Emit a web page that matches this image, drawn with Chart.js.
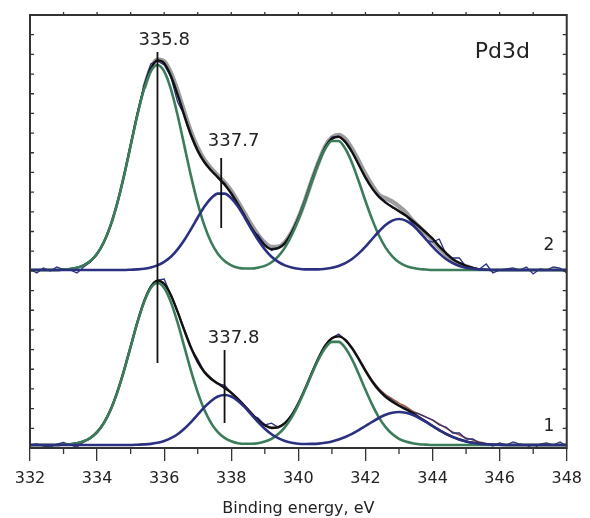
<!DOCTYPE html>
<html>
<head>
<meta charset="utf-8">
<script src="https://cdn.jsdelivr.net/npm/chart.js@4.4.1/dist/chart.umd.min.js"></script>
<style>
  html, body { margin: 0; padding: 0; background: #fff; }
</style>
</head>
<body>
<canvas id="myChart" width="590" height="518"></canvas>
<script>
// DATA (binding energy grid, eV)
const energy = [
  332, 332.2, 332.4, 332.6, 332.8, 333, 333.2, 333.4, 333.6, 333.8,
  334, 334.2, 334.4, 334.6, 334.8, 335, 335.2, 335.4, 335.6, 335.8,
  336, 336.2, 336.4, 336.6, 336.8, 337, 337.2, 337.4, 337.6, 337.8,
  338, 338.2, 338.4, 338.6, 338.8, 339, 339.2, 339.4, 339.6, 339.8,
  340, 340.2, 340.4, 340.6, 340.8, 341, 341.2, 341.4, 341.6, 341.8,
  342, 342.2, 342.4, 342.6, 342.8, 343, 343.2, 343.4, 343.6, 343.8,
  344, 344.2, 344.4, 344.6, 344.8, 345, 345.2, 345.4, 345.6, 345.8,
  346, 346.2, 346.4, 346.6, 346.8, 347, 347.2, 347.4, 347.6, 347.8,
  348
];

// spectrum 2 (upper)
const raw2 = [
  1, -3, 2, -1, 3, 0.5, 0, -3, 3, 8,
  15.5, 27, 44, 67, 94, 126, 157, 185, 206, 209,
  205, 193, 168, 155, 136, 120, 108, 100, 92, 87,
  76, 63, 55, 40, 35, 25.7, 19.5, 22.3, 25.8, 38.1,
  52.3, 68.3, 90.3, 107.2, 123.5, 133, 134, 127.5, 118.2, 105.3,
  93.3, 81.3, 74.1, 68.2, 62.3, 59.5, 54.7, 47, 38, 30,
  28, 31, 16, 12, 12, 3, 2, 1, 6, -3,
  0, 1, 2, 0, 3, -4, 1, 0, 3, 2,
  -3
];
const smooth2 = [
  null, null, null, null, null, null, null, null, null, null,
  null, null, null, null, null, null, null, 182, 201.5, 210.5,
  208.5, 197, 179, 158, 138, 122, 110, 101.5, 94.5, 87.5,
  79, 68, 56.5, 45, 35, 27.2, 23, 23.3, 27.8, 37.6,
  51.8, 69.6, 89.3, 107.6, 123.5, 132.5, 135, 131, 121, 108.8,
  95.8, 84.6, 75, 71.8, 68.3, 63.5, 57.7, 49.5, 43, 36.5,
  29.5, 22, 15.5, 10, 6, 3.5, 1.5, null, null, null,
  null, null, null, null, null, null, null, null, null, null,
  null
];
const fit2 = [
  0, 0, 0, 0, 0, 0.5, 1.0, 2.3, 4.7, 9.0,
  16.3, 27.7, 44.3, 66.6, 93.9, 124.7, 155.4, 182.0, 201.1, 209.6,
  206.7, 194.0, 175.4, 154.4, 134.8, 119.1, 107.7, 99.5, 92.7, 85.4,
  76.5, 65.7, 54.0, 42.4, 32.4, 24.7, 20.9, 21.8, 27.0, 37.2,
  51.8, 69.6, 89.3, 107.6, 122.4, 131.2, 133.1, 128.1, 118.0, 105.3,
  92.4, 81.6, 73.2, 67.4, 63.1, 58.7, 54.5, 49.2, 43.5, 37.5,
  31.4, 23.6, 17.0, 10.9, 7.1, 4.2, 2.2, 0.6, 0.3, 0,
  0, 0, 0, 0, 0, 0, 0, 0, 0, 0,
  0
];
const pdMetal2 = [
  0, 0, 0, 0, 0, 0.5, 1.0, 2.3, 4.7, 9.0,
  16.3, 27.7, 44.3, 66.6, 93.9, 124.4, 154.8, 180.8, 198.6, 205,
  198.6, 180.8, 154.8, 124.4, 93.9, 66.6, 44.3, 27.7, 16.3, 9.0,
  4.7, 2.3, 1.5, 1.5, 2.4, 4.1, 7.7, 13.7, 22.4, 34.7,
  50.6, 69.0, 88.7, 107.0, 121.2, 129.0, 129.0, 121.2, 107.0, 88.7,
  69.0, 50.6, 34.7, 22.4, 13.7, 7.7, 4.1, 2.2, 1.0, 0.5,
  0, 0, 0, 0, 0, 0, 0, 0, 0, 0,
  0, 0, 0, 0, 0, 0, 0, 0, 0, 0,
  0
];
const pdOxid2 = [
  0, 0, 0, 0, 0, 0, 0, 0, 0, 0,
  0, 0, 0, 0, 0, 0.3, 0.6, 1.2, 2.5, 4.6,
  8.1, 13.2, 20.6, 30.0, 40.9, 52.5, 63.4, 71.8, 76.4, 76.4,
  71.8, 63.4, 52.5, 40.9, 30.0, 20.6, 13.2, 8.1, 4.6, 2.5,
  1.2, 0.6, 0.6, 0.6, 1.2, 2.2, 4.1, 6.9, 11.0, 16.6,
  23.4, 31.0, 38.5, 45.0, 49.4, 51, 49.4, 45.0, 38.5, 31.0,
  23.4, 16.6, 11.0, 6.9, 4.1, 2.2, 1.2, 0.6, 0.3, 0,
  0, 0, 0, 0, 0, 0, 0, 0, 0, 0,
  0
];

// spectrum 1 (lower)
const raw1 = [
  0, 1, -1, -2, 1, 2.5, 0, -2, 3, 7,
  13, 22, 35.5, 53, 74, 99, 123, 144, 158.5, 165,
  166, 150, 133, 115, 97, 86, 73, 67, 61, 60,
  52, 46, 39, 30, 27, 20, 21.8, 17.6, 22.3, 29.9,
  41.4, 55.9, 71.7, 86.7, 99.3, 107, 111, 105.3, 96.7, 86.3,
  74, 64.4, 55.9, 49.3, 44.8, 39.8, 37, 33, 31, 28,
  25, 20, 18, 12, 12, 6, 6, 2, 1, -1,
  2, 0, 3, 1, 0, -4, 1, 2, 0, 3,
  -1
];
const smooth1 = [
  null, null, null, null, null, null, null, null, null, 7.3,
  13.5, 22.5, 35.5, 53, 74.5, 98.5, 122.5, 143.5, 158.5, 164.5,
  161.5, 150.5, 134, 116, 98.5, 84.5, 74, 67, 62, 58,
  53, 46.5, 39.5, 32, 25.5, 20.5, 17.8, 18.6, 22.3, 29.9,
  41.7, 56.2, 72.1, 87, 99.5, 106.9, 108.8, 105.3, 97.2, 86.8,
  75.4, 64.9, 56.4, 50.3, 46.1, 41.8, 38.5, 34, 31, 28,
  25, 21, 17, 13, 10, 7, 5, 3, 1.5, 0.5,
  0, null, null, null, null, null, null, null, null, null,
  null
];
const fit1 = [
  0, 0, 0, 0, 0, 0.4, 0.8, 1.8, 3.7, 7.1,
  12.9, 21.9, 35.0, 52.7, 74.2, 98.3, 122.6, 143.5, 158.1, 164.2,
  161.0, 149.7, 133.1, 114.6, 97.1, 83.1, 72.8, 66.0, 61.4, 57.1,
  52.2, 45.9, 39.0, 31.6, 24.6, 19.7, 17.0, 17.7, 21.9, 29.9,
  41.7, 56.2, 72.1, 87.0, 99.3, 106.7, 108.6, 105.0, 96.7, 85.9,
  74.2, 63.5, 54.7, 48.1, 43.2, 39.2, 35.7, 31.9, 27.8, 23.5,
  19.0, 14.9, 11.1, 8.0, 5.5, 3.6, 2.3, 1.4, 0.8, 0.4,
  0.2, 0, 0, 0, 0, 0, 0, 0, 0, 0,
  0
];
const pdMetal1 = [
  0, 0, 0, 0, 0, 0.4, 0.8, 1.8, 3.7, 7.1,
  12.9, 21.9, 35.0, 52.7, 74.2, 98.3, 122.3, 142.9, 157.0, 162,
  157.0, 142.9, 122.3, 98.3, 74.2, 52.7, 35.0, 21.9, 12.9, 7.1,
  3.7, 1.8, 1.2, 1.2, 1.7, 3.4, 6.2, 10.9, 17.9, 27.7,
  40.4, 55.2, 71.0, 85.6, 97.0, 103.1, 103.1, 97.0, 85.6, 71.0,
  55.2, 40.4, 27.7, 17.9, 10.9, 6.2, 3.4, 1.7, 0.8, 0.4,
  0, 0, 0, 0, 0, 0, 0, 0, 0, 0,
  0, 0, 0, 0, 0, 0, 0, 0, 0, 0,
  0
];
const pdOxid1 = [
  0, 0, 0, 0, 0, 0, 0, 0, 0, 0,
  0, 0, 0, 0, 0, 0, 0.3, 0.6, 1.1, 2.2,
  4.0, 6.8, 10.8, 16.3, 22.9, 30.4, 37.8, 44.1, 48.5, 50,
  48.5, 44.1, 37.8, 30.4, 22.9, 16.3, 10.8, 6.8, 4.0, 2.2,
  1.3, 1.0, 1.1, 1.4, 2.3, 3.6, 5.5, 8.0, 11.1, 14.9,
  19.0, 23.1, 27.0, 30.2, 32.3, 33, 32.3, 30.2, 27.0, 23.1,
  19.0, 14.9, 11.1, 8.0, 5.5, 3.6, 2.3, 1.4, 0.8, 0.4,
  0.2, 0, 0, 0, 0, 0, 0, 0, 0, 0,
  0
];

// peak markers
const markerEnergy = [335.8, 337.7, 337.8];
const markerFrom = [85, 220, 25];
const markerTo = [396, 290, 98];
const markerText = ['335.8', '337.7', '337.8'];

const tickValues = [332, 334, 336, 338, 340, 342, 344, 346, 348];

// vertical offsets of the two spectra
const base2 = 178;
const base1 = 3;

const GREEN = '#3b7c5a';
const NAVY = '#2b3081';
const INK = '#222';

Chart.defaults.font.family = "'DejaVu Sans', sans-serif";

function pts(values, base) {
  return energy.map((e, i) => ({ x: e, y: values[i] === null ? null : values[i] + base }));
}

function line(values, base, color, width, order, smooth) {
  return {
    data: pts(values, base),
    borderColor: color,
    borderWidth: width,
    pointRadius: 0,
    fill: false,
    order: order,
    tension: 0,
    cubicInterpolationMode: smooth ? 'monotone' : 'default',
    spanGaps: false
  };
}

const datasets = [
  line(smooth2, base2, '#9d9d9d', 4.5, 6, true),
  line(fit2, base2, '#111', 2.4, 4, true),
  line(raw2, base2, NAVY, 1.3, 5, false),
  line(pdMetal2, base2, GREEN, 2.6, 3, true),
  line(pdOxid2, base2, NAVY, 2.6, 2, true),
  line(smooth1, base1, '#a4573a', 1.5, 6, true),
  line(fit1, base1, '#111', 2.4, 4, true),
  line(raw1, base1, NAVY, 1.3, 5, false),
  line(pdMetal1, base1, GREEN, 2.6, 3, true),
  line(pdOxid1, base1, NAVY, 2.6, 2, true)
];
markerEnergy.forEach((e, i) => {
  datasets.push({
    data: [{ x: e, y: markerFrom[i] }, { x: e, y: markerTo[i] }],
    borderColor: '#111',
    borderWidth: 1.8,
    pointRadius: 0,
    order: 1
  });
});

// frame + minor ticks
const framePlugin = {
  id: 'frame',
  afterDatasetsDraw(chart) {
    const { ctx, chartArea: a, scales: { x, y } } = chart;
    ctx.save();
    ctx.strokeStyle = '#333';
    ctx.lineWidth = 1.3;
    ctx.beginPath();
    for (let v = 333; v < 348; v += 2) {
      const px = x.getPixelForValue(v);
      ctx.moveTo(px, a.bottom); ctx.lineTo(px, a.bottom + 6);
    }
    for (let v = 333; v < 348; v += 1) {
      const px = x.getPixelForValue(v);
      ctx.moveTo(px, a.top); ctx.lineTo(px, a.top - 3);
    }
    const step = (y.max - y.min) / 22;
    for (let k = 1; k < 22; k++) {
      const py = y.getPixelForValue(y.min + k * step);
      ctx.moveTo(a.left, py); ctx.lineTo(a.left + 4, py);
      ctx.moveTo(a.right, py); ctx.lineTo(a.right - 4, py);
    }
    ctx.stroke();
    ctx.lineWidth = 2;
    ctx.strokeRect(a.left, a.top, a.right - a.left, a.bottom - a.top);
    ctx.restore();
  }
};

// text labels placed in data coordinates
const textLabels = [
  { text: markerText[0], x: 336.0, y: 408, size: 18 },
  { text: markerText[1], x: 338.07, y: 307, size: 18 },
  { text: markerText[2], x: 338.07, y: 110, size: 18 },
  { text: 'Pd3d', x: 346.08, y: 396, size: 22 },
  { text: '2', x: 347.47, y: 202, size: 17 },
  { text: '1', x: 347.47, y: 21, size: 17 }
];
const labelPlugin = {
  id: 'labels',
  afterDraw(chart) {
    const { ctx, scales: { x, y } } = chart;
    ctx.save();
    ctx.fillStyle = INK;
    ctx.textAlign = 'center';
    ctx.textBaseline = 'middle';
    textLabels.forEach(l => {
      ctx.font = l.size + "px 'DejaVu Sans', sans-serif";
      ctx.fillText(l.text, x.getPixelForValue(l.x), y.getPixelForValue(l.y));
    });
    ctx.restore();
  }
};

const ctx = document.getElementById('myChart').getContext('2d');
const myChart = new Chart(ctx, {
  type: 'line',
  data: { datasets: datasets },
  plugins: [framePlugin, labelPlugin],
  options: {
    responsive: false,
    animation: false,
    devicePixelRatio: 1,
    layout: { padding: { left: 30, right: 17, top: 15, bottom: 0 } },
    plugins: { legend: { display: false }, tooltip: { enabled: false } },
    scales: {
      x: {
        type: 'linear',
        min: 332,
        max: 348,
        afterBuildTicks: (scale) => { scale.ticks = tickValues.map(v => ({ value: v })); },
        afterFit: (scale) => { scale.height = 70; },
        ticks: { color: INK, font: { size: 16 }, padding: 8, maxRotation: 0, autoSkip: false },
        grid: { drawOnChartArea: false, drawTicks: true, tickLength: 13, color: '#333', lineWidth: 1.3 },
        border: { display: false },
        title: { display: true, text: 'Binding energy, eV', color: INK, font: { size: 16 }, padding: { top: 4, bottom: 0 } }
      },
      y: {
        type: 'linear',
        display: false,
        min: 0,
        max: 433
      }
    }
  }
});
</script>
</body>
</html>
